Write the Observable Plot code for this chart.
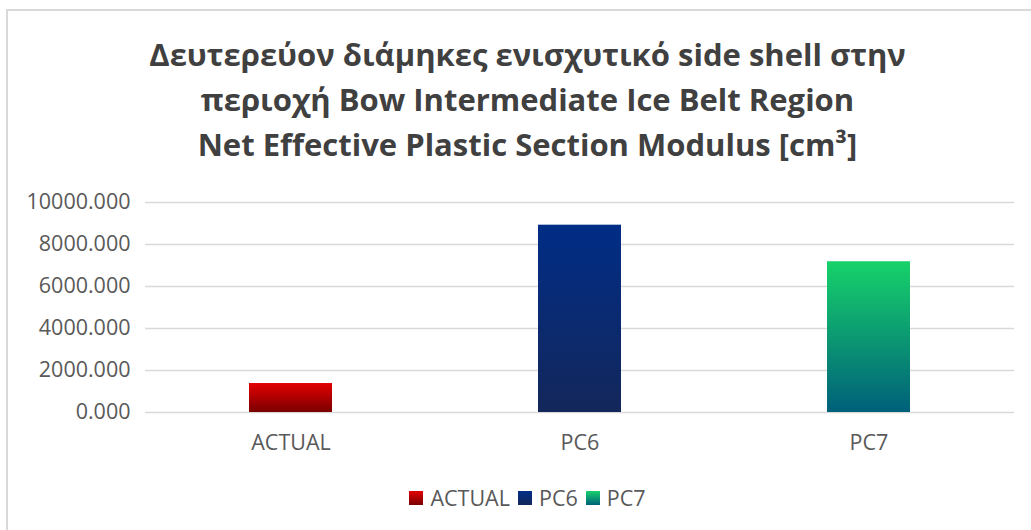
<!DOCTYPE html>
<html>
<head>
<meta charset="utf-8">
<script src="https://cdn.jsdelivr.net/npm/d3@7"></script>
<script src="https://cdn.jsdelivr.net/npm/@observablehq/plot@0.6"></script>
<style>
  html, body { margin: 0; padding: 0; background: #fff; overflow: hidden; width: 1031px; height: 530px; }
  #frame {
    position: absolute; left: 6px; top: 9px; width: 1039px; height: 540px;
    border-left: 2px solid #d9d9d9; border-top: 2px solid #d9d9d9; box-sizing: border-box;
    font-family: "Open Sans", sans-serif;
  }
  #title {
    position: absolute; left: 0; top: 21px; width: 1039px; text-align: center;
    font-weight: 700; font-size: 31px; line-height: 45px; color: #404040;
  }
  #chart { position: absolute; left: -2px; top: 169px; }
  #legend {
    position: absolute; left: 0; top: 473px; width: 1039px; text-align: center;
    font-size: 21.5px; line-height: 26px; color: #595959;
  }
  #legend .item { display: inline-flex; align-items: center; margin: 0 4px; }
  #legend .sw { width: 14px; height: 14px; margin-right: 7px; display: inline-block; }
</style>
</head>
<body>
<div id="frame">
  <div id="title"></div>
  <div id="chart"></div>
  <div id="legend"></div>
</div>
<script>
// Series and axis data
const titleLines = [
  "Δευτερεύον διάμηκες ενισχυτικό side shell στην",
  "περιοχή Bow Intermediate Ice Belt Region",
  "Net Effective Plastic Section Modulus [cm³]"
];
const categories = ["ACTUAL", "PC6", "PC7"];
const values = [1380, 8920, 7180];
const yTicks = [0, 2000, 4000, 6000, 8000, 10000];
// Vertical gradient stops per series (top, bottom)
const gradTop = ["#e30000", "#012d86", "#17d26a"];
const gradBottom = ["#7a0000", "#13275a", "#00607a"];

document.getElementById("title").innerHTML = titleLines.join("<br>");

const data = categories.map((c, i) => ({category: c, value: values[i], fill: `url(#grad-${i})`}));

const plot = Plot.plot({
  width: 1039,
  height: 289,
  marginLeft: 139,
  marginRight: 31,
  marginTop: 22,
  marginBottom: 57,
  style: {fontFamily: "Open Sans, sans-serif", fontSize: "21.5px", color: "#595959", background: "transparent"},
  x: {domain: categories, paddingInner: 0.713, paddingOuter: 0.3565, align: 0.5, label: null},
  y: {domain: [0, 10000], label: null},
  marks: [
    Plot.gridY(yTicks, {stroke: "#d9d9d9", strokeOpacity: 1, strokeWidth: 1.5}),
    Plot.barY(data, {x: "category", y: "value", fill: "fill", inset: 0}),
    Plot.axisX({tickSize: 0, tickPadding: 22, fontSize: 21.5}),
    Plot.axisY({ticks: yTicks, tickFormat: d3.format(".3f"), tickSize: 0, tickPadding: 15, fontSize: 21.5})
  ]
});

// Gradient definitions used by the bars
const svg = d3.select(plot);
const defs = svg.insert("defs", ":first-child");
categories.forEach((c, i) => {
  const g = defs.append("linearGradient").attr("id", `grad-${i}`)
    .attr("x1", 0).attr("y1", 0).attr("x2", 0).attr("y2", 1);
  g.append("stop").attr("offset", "0%").attr("stop-color", gradTop[i]);
  g.append("stop").attr("offset", "100%").attr("stop-color", gradBottom[i]);
});
document.getElementById("chart").appendChild(plot);

// Legend
const legend = d3.select("#legend");
categories.forEach((c, i) => {
  const item = legend.append("span").attr("class", "item");
  item.append("span").attr("class", "sw")
    .style("background", `linear-gradient(${gradTop[i]}, ${gradBottom[i]})`);
  item.append("span").text(c);
});
</script>
</body>
</html>
